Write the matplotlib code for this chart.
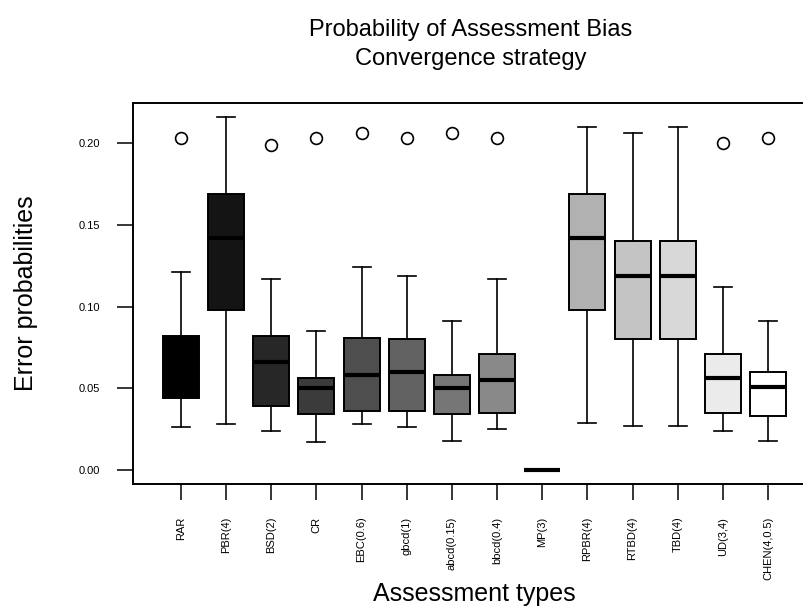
#!/usr/bin/env python3
"""Boxplot of assessment bias error probabilities (convergence strategy)."""
import matplotlib

matplotlib.use("Agg")
import matplotlib.pyplot as plt
import numpy as np

# assessment types and their summary statistics
labels = ["RAR", "PBR(4)", "BSD(2)", "CR", "EBC(0.6)", "gbcd(1)", "abcd(0.15)",
          "bbcd(0.4)", "MP(3)", "RPBR(4)", "RTBD(4)", "TBD(4)", "UD(3,4)", "CHEN(4,0.5)"]
whislo = [0.026, 0.028, 0.024, 0.017, 0.028, 0.026, 0.018, 0.025, 0.0, 0.029, 0.027, 0.027, 0.024, 0.018]
q1 = [0.044, 0.098, 0.039, 0.034, 0.036, 0.036, 0.034, 0.035, 0.0, 0.098, 0.080, 0.080, 0.035, 0.033]
med = [0.060, 0.142, 0.066, 0.050, 0.058, 0.060, 0.050, 0.055, 0.0, 0.142, 0.119, 0.119, 0.056, 0.051]
q3 = [0.082, 0.169, 0.082, 0.056, 0.081, 0.080, 0.058, 0.071, 0.0, 0.169, 0.140, 0.140, 0.071, 0.060]
whishi = [0.121, 0.216, 0.117, 0.085, 0.124, 0.119, 0.091, 0.117, 0.0, 0.210, 0.206, 0.210, 0.112, 0.091]
outliers = [[0.203], [], [0.199], [0.203], [0.206], [0.203], [0.206], [0.203], [], [], [], [],
            [0.200], [0.203]]
yticks = [0.00, 0.05, 0.10, 0.15, 0.20]


def main() -> int:
    plt.rcParams["font.family"] = ["Liberation Sans", "DejaVu Sans"]
    fig = plt.figure(figsize=(8.04, 6.11), dpi=100)
    # R-style plot region; right edge runs past the figure like the original
    ax = fig.add_axes([133 / 804, 127 / 611, 683 / 804, 381 / 611])

    stats = [
        {"whislo": lo, "q1": a, "med": m, "q3": b, "whishi": hi, "fliers": f}
        for lo, a, m, b, hi, f in zip(whislo, q1, med, q3, whishi, outliers)
    ]
    pos = np.arange(1, len(labels) + 1)
    bp = ax.bxp(
        stats,
        positions=pos,
        widths=0.8,
        capwidths=0.4,
        patch_artist=True,
        boxprops=dict(linewidth=1.4, edgecolor="black"),
        medianprops=dict(linewidth=3.0, color="black", solid_capstyle="butt"),
        whiskerprops=dict(linewidth=1.2, color="black"),
        capprops=dict(linewidth=1.2, color="black"),
        flierprops=dict(marker="o", markersize=8.5, markerfacecolor="none",
                        markeredgecolor="black", markeredgewidth=1.2),
    )
    for patch, g in zip(bp["boxes"], np.linspace(0, 1, len(labels))):
        patch.set_facecolor((g, g, g))

    ax.set_xlim(-0.06, len(labels) + 1.06)
    ax.set_ylim(-0.0086, 0.2246)
    ax.set_xticks(pos, labels=labels, rotation=90, fontsize=8)
    ax.set_yticks(yticks, labels=[f"{v:.2f}" for v in yticks], fontsize=8)
    ax.tick_params(direction="out", length=11.5, width=1.1, pad=12)
    for sp in ax.spines.values():
        sp.set_linewidth(1.4)

    ax.set_title("Probability of Assessment Bias\nConvergence strategy",
                 fontsize=17, pad=27, linespacing=1.45, x=(470.5 - 133) / 683)
    ax.set_ylabel("Error probabilities", fontsize=18)
    ax.yaxis.set_label_coords(-0.139, 0.5)
    ax.set_xlabel("Assessment types", fontsize=18)
    ax.xaxis.set_label_coords(0.5, -0.257)

    fig.savefig("out.png", dpi=100)
    plt.close(fig)
    return 0


if __name__ == "__main__":
    raise SystemExit(main())
